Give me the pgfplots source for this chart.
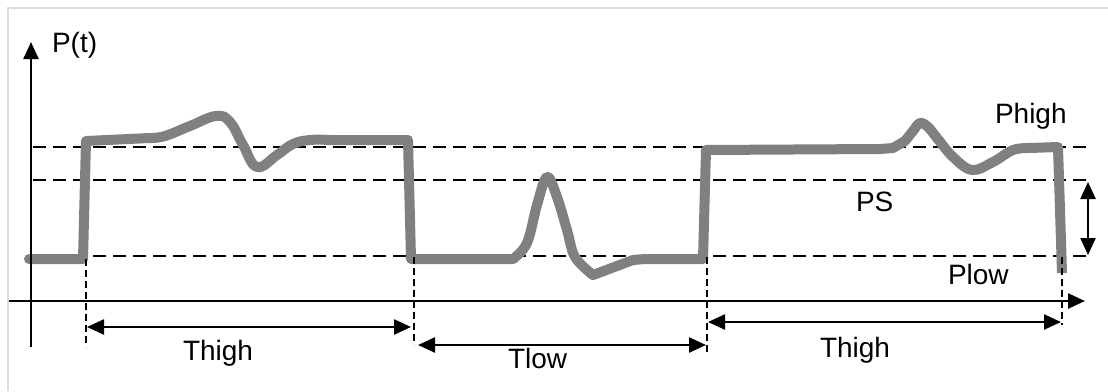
\documentclass[border=0pt]{standalone}
\usepackage{fontspec}
\setmainfont{Liberation Sans}
\usepackage{pgfplots}
\pgfplotsset{compat=1.18}
\usetikzlibrary{arrows.meta}
\definecolor{sig}{HTML}{808080}
\definecolor{frame}{HTML}{DCDCDC}
\begin{document}
\begin{tikzpicture}[>={Triangle[length=8.5pt,width=7.5pt]}]
\begin{axis}[
  scale only axis, width=554pt, height=195.5pt,
  xmin=0, xmax=1108, ymin=0, ymax=391, y dir=reverse,
  hide axis, clip=false,
]
\fill[white] (0,0) rectangle (1108,391);
% frame
\draw[frame, line width=1pt] (8,391) -- (8,8) -- (1108,8);
% dashed levels
\draw[black, line width=0.85pt, dash pattern=on 6.5pt off 3.5pt] (33,147) -- (1093,147);
\draw[black, line width=0.85pt, dash pattern=on 6.5pt off 3.5pt] (33,180) -- (1093,180);
\draw[black, line width=0.85pt, dash pattern=on 6.5pt off 3.5pt] (33,256) -- (1093,256);
% signal
\pgfplotsset{sigstyle/.style={sig, line width=5pt, line cap=round, line join=round, no marks}}
\addplot[sigstyle] coordinates {(29,259) (83,259) (86,141) (150,138)};
\addplot[sigstyle, smooth, tension=0.7] coordinates {(150,138) (165,136) (190,126) (216,116) (230,122) (243,145) (257,167) (277,155) (293,144) (310,140) (330,140)};
\addplot[sigstyle] coordinates {(330,140) (408,140) (411,259) (513,259)};
\addplot[sigstyle, smooth, tension=0.6] coordinates {(513,259) (527,243) (537,205) (547,177) (557,197) (567,230) (575,257) (593,275)};
\addplot[sigstyle] coordinates {(593,275) (633,260) (645,259) (703,259) (706,150) (880,149) (893,148) (905,141)};
\addplot[sigstyle, smooth, tension=0.6] coordinates {(905,141) (913,131) (920,123) (928,127) (937,138) (953,157) (972,170) (993,162) (1013,150) (1030,148)};
\addplot[sig, line width=5pt, line join=round, line cap=butt] coordinates {(1030,148) (1058,147) (1062,273)};
% vertical dashed
\draw[black, line width=0.85pt, dash pattern=on 3.5pt off 2pt] (86,259) -- (86,347);
\draw[black, line width=0.85pt, dash pattern=on 3.5pt off 2pt] (414,257) -- (414,345);
\draw[black, line width=0.85pt, dash pattern=on 3.5pt off 2pt] (707,257) -- (707,355);
\draw[black, line width=0.85pt, dash pattern=on 3.5pt off 2pt] (1062,257) -- (1062,325);
% axes
\draw[black, line width=1.2pt, ->] (31,347) -- (31,42);
\draw[black, line width=1.2pt, ->] (9,301) -- (1085,301);
% spans
\draw[black, line width=1.2pt, <->] (87,327) -- (411,327);
\draw[black, line width=1.2pt, <->] (418,345) -- (706,345);
\draw[black, line width=1.2pt, <->] (708,322) -- (1061,322);
\draw[black, line width=1.2pt, <->] (1088,182) -- (1088,255);
% labels
\tikzset{lab/.style={inner sep=0pt, outer sep=0pt, anchor=base west, font=\fontsize{14pt}{16pt}\selectfont}}
\node[lab] at (52,52) {P(t)};
\node[lab] at (183,360) {Thigh};
\node[lab] at (508,368) {Tlow};
\node[lab] at (820,357) {Thigh};
\node[lab] at (995,123) {Phigh};
\node[lab] at (856,211) {PS};
\node[lab] at (948,284) {Plow};
\end{axis}
\pgfresetboundingbox
\useasboundingbox (current axis.south west) rectangle (current axis.north east);
\end{tikzpicture}
\end{document}
